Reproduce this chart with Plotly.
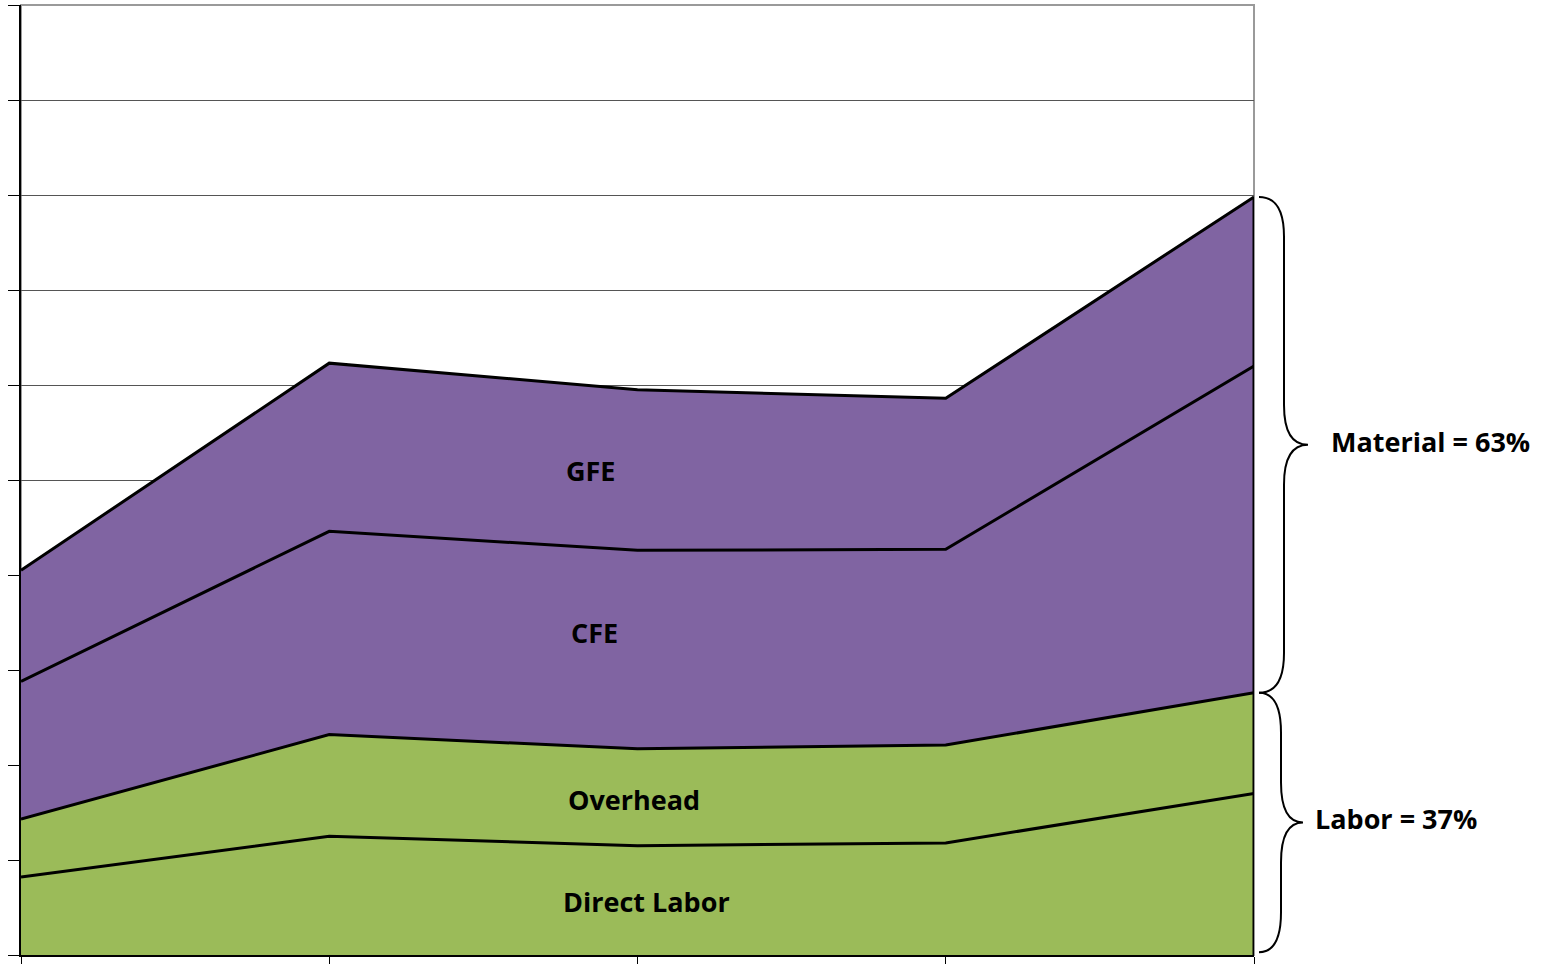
import plotly.graph_objects as go

# ---- data ----
periods = [0, 1, 2, 3, 4]
direct_labor = [0.82, 1.25, 1.15, 1.18, 1.70]
overhead = [0.61, 1.07, 1.02, 1.03, 1.06]
cfe = [1.45, 2.14, 2.09, 2.06, 3.44]
gfe = [1.17, 1.77, 1.69, 1.59, 1.78]
series_names = ["Direct Labor", "Overhead", "CFE", "GFE"]
series_colors = ["#9BBB59", "#9BBB59", "#8064A2", "#8064A2"]
material_label = "Material = 63%"
labor_label = "Labor = 37%"

W, H = 1550, 964
L, R, T, B = 21, 296, 5, 9
plot_w = W - L - R

fig = go.Figure()
for name, vals, col in zip(series_names, [direct_labor, overhead, cfe, gfe], series_colors):
    fig.add_trace(go.Scatter(
        x=periods, y=vals, name=name, mode="lines", stackgroup="one",
        line=dict(color="black", width=3), fillcolor=col, hoverinfo="skip",
    ))

labor_top = [a + b for a, b in zip(direct_labor, overhead)]
total = [a + b + c for a, b, c in zip(labor_top, cfe, gfe)]

font = dict(family="Open Sans", size=27, color="black")

# in-area labels
labels = [("GFE", 1.85, 5.10), ("CFE", 1.86, 3.40), ("Overhead", 1.99, 1.64), ("Direct Labor", 2.03, 0.56)]
annotations = [dict(x=x, y=y, text=f"<b>{t}</b>", showarrow=False, font=font,
                    xanchor="center", yanchor="middle") for t, x, y in labels]


def px2paper(p):
    return (p - L) / plot_w


def brace(y_top, y_bot, xs, xm, xt, r):
    ym = (y_top + y_bot) / 2
    return (f"M {xs},{y_top} Q {xm},{y_top} {xm},{y_top - r} "
            f"L {xm},{ym + r} Q {xm},{ym} {xt},{ym} "
            f"Q {xm},{ym} {xm},{ym - r} "
            f"L {xm},{y_bot + r} Q {xm},{y_bot} {xs},{y_bot}")


last = len(periods) - 1
shapes = [
    # plot-area border (top/right) in gray
    dict(type="rect", xref="paper", yref="paper", x0=0, x1=1, y0=0, y1=1,
         line=dict(color="#9a9a9a", width=2), layer="below"),
    # right edge of the stacked area
    dict(type="line", xref="x", yref="y", x0=periods[last], x1=periods[last],
         y0=0, y1=total[last], line=dict(color="black", width=3)),
    # braces
    dict(type="path", xref="paper", yref="y",
         path=brace(total[last], labor_top[last], px2paper(1259), px2paper(1284), px2paper(1308), 0.42),
         line=dict(color="black", width=2)),
    dict(type="path", xref="paper", yref="y",
         path=brace(labor_top[last], 0.03, px2paper(1259), px2paper(1281), px2paper(1303), 0.42),
         line=dict(color="black", width=2)),
]

annotations += [
    dict(xref="paper", yref="y", x=px2paper(1329), y=(total[last] + labor_top[last]) / 2 + 0.04,
         text=f"<b>{material_label}</b>", showarrow=False, font=font, xanchor="left", yanchor="middle"),
    dict(xref="paper", yref="y", x=px2paper(1313), y=(labor_top[last] + 0.03) / 2 + 0.04,
         text=f"<b>{labor_label}</b>", showarrow=False, font=font, xanchor="left", yanchor="middle"),
]

fig.update_layout(
    width=W, height=H, margin=dict(l=L, r=R, t=T, b=B, autoexpand=False),
    paper_bgcolor="white", plot_bgcolor="white", showlegend=False,
    shapes=shapes, annotations=annotations, hovermode=False,
)
fig.update_xaxes(range=[periods[0], periods[-1]], tickvals=periods, showticklabels=False,
                 ticks="outside", ticklen=8, tickcolor="black", tickwidth=1, automargin=False,
                 showgrid=False, showline=True, linecolor="black", linewidth=2, zeroline=False)
fig.update_yaxes(range=[0, 10], dtick=1, tick0=0, showticklabels=False,
                 ticks="outside", ticklen=11, tickcolor="black", tickwidth=1, automargin=False,
                 showgrid=True, gridcolor="#555555", gridwidth=1,
                 showline=True, linecolor="black", linewidth=2, zeroline=False)

fig.write_html("out.html", config={"displayModeBar": False},
               post_script="document.body.style.margin='0';document.body.style.overflow='hidden';")
